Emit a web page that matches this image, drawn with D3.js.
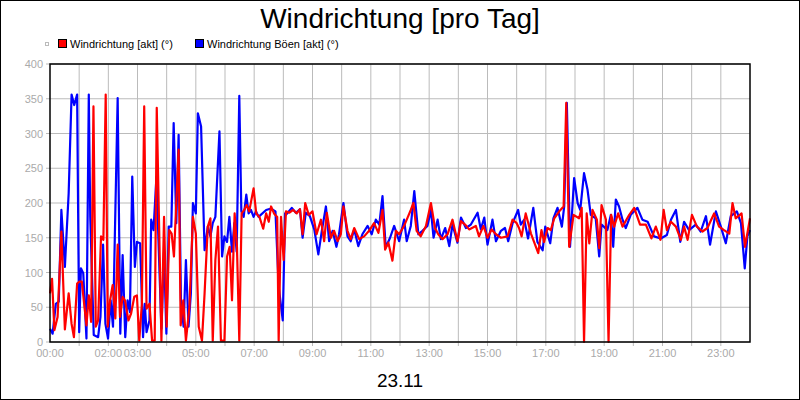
<!DOCTYPE html>
<html>
<head>
<meta charset="utf-8">
<script src="https://cdn.jsdelivr.net/npm/d3@7"></script>
<style>
  body { margin: 0; background: #fff; }
  svg { display: block; font-family: "Liberation Sans", Arial, sans-serif; }
</style>
</head>
<body>
<svg id="chart" width="800" height="400"></svg>
<script>
var seriesNames = ["Windrichtung [akt] (°)", "Windrichtung Böen [akt] (°)"];
var seriesColors = ["#ff0000", "#0000ff"];
var yTicks = [0, 50, 100, 150, 200, 250, 300, 350, 400];
var xLabelHours = [0, 2, 3, 5, 7, 9, 11, 13, 15, 17, 19, 21, 23];

// [hour, degrees]
var windDir = [
  [0,70],[0.07,91],[0.15,17],[0.26,36],[0.39,159],[0.51,18],[0.64,70],[0.74,26],[0.82,7],[0.93,84],
  [1.01,87],[1.09,87],[1.25,24],[1.33,67],[1.41,29],[1.49,339],[1.57,22],[1.65,31],[1.75,152],[1.83,147],
  [1.91,356],[1.98,22],[2.06,60],[2.15,82],[2.24,34],[2.32,140],[2.4,36],[2.49,65],[2.57,60],[2.69,31],
  [2.78,41],[2.89,65],[2.98,67],[3.06,2],[3.15,55],[3.23,339],[3.31,48],[3.41,55],[3.5,2],[3.59,2],
  [3.66,337],[3.75,147],[3.82,2],[3.91,180],[4.0,22],[4.09,161],[4.17,156],[4.25,123],[4.41,277],[4.48,24],
  [4.57,60],[4.66,2],[4.78,50],[4.9,180],[5.0,156],[5.1,22],[5.21,2],[5.3,70],[5.41,166],[5.5,178],
  [5.58,2],[5.67,118],[5.76,166],[5.86,2],[5.98,2],[6.07,123],[6.16,137],[6.24,60],[6.33,185],[6.41,137],
  [6.49,2],[6.57,185],[6.66,190],[6.74,197],[6.83,188],[6.98,221],[7.07,185],[7.18,180],[7.31,163],[7.41,185],
  [7.5,173],[7.58,195],[7.68,185],[7.79,180],[7.84,2],[7.92,180],[8.01,118],[8.09,188],[8.2,186],[8.34,190],
  [8.46,185],[8.57,191],[8.66,155],[8.75,200],[8.87,183],[9.0,188],[9.14,155],[9.29,176],[9.4,145],[9.49,186],
  [9.63,150],[9.74,160],[9.86,145],[9.97,155],[10.06,195],[10.2,160],[10.31,148],[10.43,164],[10.6,148],[10.77,152],
  [10.94,160],[11.11,171],[11.26,157],[11.4,190],[11.49,133],[11.6,143],[11.74,117],[11.86,160],[11.97,155],[12.14,167],
  [12.26,179],[12.37,190],[12.46,200],[12.57,160],[12.71,152],[12.89,167],[13.06,200],[13.2,164],[13.31,155],[13.46,148],
  [13.63,155],[13.8,176],[13.97,145],[14.09,174],[14.23,169],[14.37,162],[14.6,167],[14.71,152],[14.86,167],[15.0,150],
  [15.14,162],[15.29,155],[15.46,150],[15.69,152],[15.86,176],[16.0,171],[16.08,164],[16.17,152],[16.31,185],[16.49,156],
  [16.74,128],[16.85,161],[16.94,144],[17.06,164],[17.17,161],[17.29,178],[17.46,188],[17.61,195],[17.7,344],[17.8,137],
  [17.95,183],[18.14,178],[18.23,193],[18.31,0],[18.4,185],[18.49,142],[18.6,190],[18.75,176],[18.83,135],[18.91,197],
  [19.06,176],[19.15,0],[19.24,183],[19.34,166],[19.48,185],[19.63,166],[19.86,183],[20.03,193],[20.23,169],[20.43,169],
  [20.62,149],[20.77,166],[20.93,147],[21.04,190],[21.15,161],[21.29,173],[21.46,166],[21.63,147],[21.74,166],[21.86,147],
  [22.01,183],[22.18,166],[22.37,159],[22.54,164],[22.77,185],[22.94,166],[23.11,161],[23.29,156],[23.4,200],[23.51,178],
  [23.71,185],[23.83,137],[24.0,178]
];

var gustDir = [
  [0,19],[0.09,12],[0.2,55],[0.3,58],[0.39,190],[0.51,108],[0.64,214],[0.74,356],[0.83,341],[0.93,356],
  [1.0,14],[1.06,106],[1.14,99],[1.25,5],[1.33,356],[1.38,180],[1.5,10],[1.65,7],[1.73,36],[1.82,140],
  [1.9,26],[1.99,5],[2.08,60],[2.16,22],[2.32,351],[2.41,12],[2.49,125],[2.58,7],[2.66,60],[2.74,43],
  [2.82,238],[2.91,108],[2.98,144],[3.09,142],[3.19,7],[3.25,55],[3.31,14],[3.41,31],[3.47,176],[3.55,161],
  [3.65,238],[3.73,132],[3.82,19],[3.91,130],[3.99,12],[4.07,166],[4.16,166],[4.24,315],[4.33,171],[4.41,298],
  [4.49,60],[4.58,22],[4.66,118],[4.75,22],[4.83,70],[4.9,200],[5.0,185],[5.07,329],[5.18,310],[5.3,132],
  [5.41,166],[5.5,152],[5.58,171],[5.67,180],[5.81,303],[5.9,123],[5.98,152],[6.07,144],[6.15,180],[6.24,130],
  [6.32,171],[6.4,130],[6.49,354],[6.56,188],[6.64,180],[6.73,212],[6.81,185],[6.89,190],[6.98,180],[7.06,188],
  [7.15,180],[7.41,190],[7.58,192],[7.73,188],[7.84,80],[7.98,31],[8.06,185],[8.09,183],[8.29,193],[8.43,186],
  [8.57,191],[8.66,150],[8.77,186],[8.91,181],[9.06,162],[9.2,126],[9.32,160],[9.46,195],[9.57,145],[9.69,160],
  [9.82,137],[9.91,155],[10.06,200],[10.2,152],[10.31,145],[10.43,162],[10.57,138],[10.71,155],[10.89,167],[11.03,155],
  [11.17,176],[11.29,169],[11.4,210],[11.51,136],[11.66,150],[11.8,167],[11.97,145],[12.14,176],[12.23,145],[12.37,167],
  [12.49,217],[12.63,155],[12.77,160],[12.94,167],[13.06,190],[13.15,150],[13.29,176],[13.4,148],[13.55,164],[13.69,138],
  [13.8,169],[13.97,143],[14.09,179],[14.26,164],[14.43,169],[14.66,186],[14.77,162],[14.89,179],[15.0,140],[15.17,176],
  [15.29,145],[15.46,160],[15.6,164],[15.71,145],[15.86,171],[16.05,190],[16.14,169],[16.26,176],[16.39,149],[16.57,193],
  [16.71,144],[16.89,132],[16.98,166],[17.15,142],[17.26,178],[17.4,193],[17.55,166],[17.63,195],[17.72,344],[17.83,137],
  [17.97,236],[18.09,200],[18.18,190],[18.31,243],[18.43,219],[18.54,183],[18.71,178],[18.83,123],[18.91,169],[19.11,161],
  [19.23,183],[19.31,137],[19.4,205],[19.51,195],[19.63,176],[19.74,164],[19.91,183],[20.14,193],[20.31,176],[20.49,173],
  [20.71,152],[20.94,149],[21.15,154],[21.29,176],[21.46,190],[21.61,144],[21.74,173],[21.91,161],[22.14,169],[22.31,159],
  [22.49,181],[22.63,140],[22.83,188],[23.0,166],[23.17,142],[23.34,181],[23.55,188],[23.69,171],[23.82,106],[23.91,152],
  [24.0,161]
];

var svg = d3.select("#chart");
var m = {left: 50, right: 50, top: 64, bottom: 58};
var w = 800 - m.left - m.right, h = 400 - m.top - m.bottom;

svg.append("rect").attr("x", 0.5).attr("y", 0.5).attr("width", 799).attr("height", 399)
  .attr("fill", "#fff").attr("stroke", "#000");

svg.append("text").attr("x", 400).attr("y", 28).attr("text-anchor", "middle")
  .attr("font-size", 28).text("Windrichtung [pro Tag]");
svg.append("text").attr("x", 400).attr("y", 387).attr("text-anchor", "middle")
  .attr("font-size", 19).text("23.11");

// legend
svg.append("rect").attr("x", 45.5).attr("y", 42.5).attr("width", 3).attr("height", 3)
  .attr("fill", "none").attr("stroke", "#bbb");
var legX = [58, 195];
seriesNames.forEach(function(n, i) {
  svg.append("rect").attr("x", legX[i] + 0.5).attr("y", 39.5).attr("width", 8).attr("height", 8)
    .attr("fill", seriesColors[i]).attr("stroke", "#000");
  svg.append("text").attr("x", legX[i] + 12).attr("y", 48).attr("font-size", 11).text(n);
});

var x = d3.scaleLinear().domain([0, 24]).range([0, w]);
var y = d3.scaleLinear().domain([0, 400]).range([h, 0]);
var g = svg.append("g").attr("transform", "translate(" + m.left + "," + m.top + ")");

g.append("g").selectAll("line").data(d3.range(1, 24)).join("line")
  .attr("x1", d => x(d)).attr("x2", d => x(d)).attr("y1", 0).attr("y2", h + 4)
  .attr("stroke", "#bbb");
g.append("g").selectAll("line").data(yTicks).join("line")
  .attr("x1", -4).attr("x2", w).attr("y1", d => y(d)).attr("y2", d => y(d))
  .attr("stroke", "#bbb");

g.append("g").selectAll("text").data(yTicks).join("text")
  .attr("x", -7).attr("y", d => y(d) + 4).attr("text-anchor", "end")
  .attr("font-size", 11).attr("fill", "#aaa").text(d => d);
g.append("g").selectAll("text").data(xLabelHours).join("text")
  .attr("x", d => x(d)).attr("y", h + 15).attr("text-anchor", "middle")
  .attr("font-size", 11).attr("fill", "#aaa")
  .text(d => (d < 10 ? "0" : "") + d + ":00");

var line = d3.line().x(d => x(d[0])).y(d => y(d[1]));
g.append("path").datum(gustDir).attr("d", line).attr("fill", "none")
  .attr("stroke", seriesColors[1]).attr("stroke-width", 2.2).attr("stroke-linejoin", "round");
g.append("path").datum(windDir).attr("d", line).attr("fill", "none")
  .attr("stroke", seriesColors[0]).attr("stroke-width", 2.2).attr("stroke-linejoin", "round");

g.append("rect").attr("x", 0).attr("y", 0).attr("width", w).attr("height", h)
  .attr("fill", "none").attr("stroke", "#000").attr("stroke-width", 1.5);
</script>
</body>
</html>
